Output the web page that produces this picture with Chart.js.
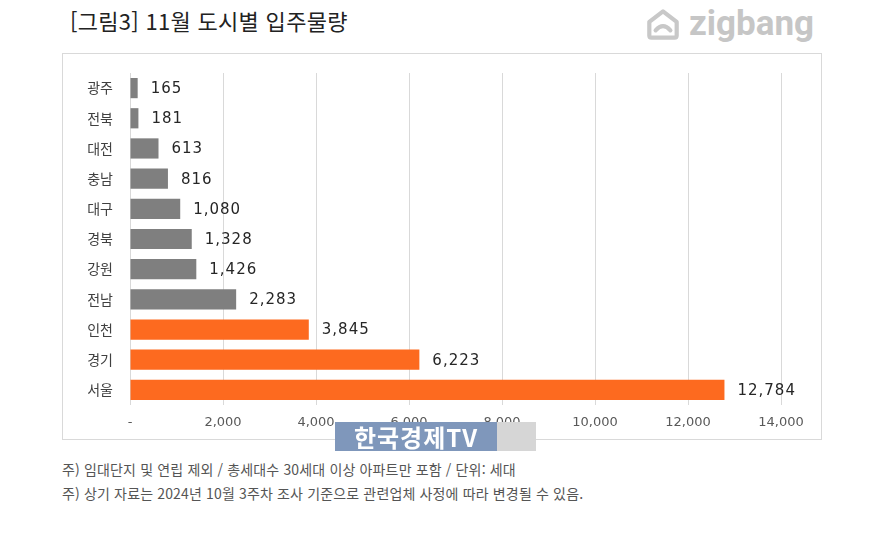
<!DOCTYPE html>
<html lang="ko">
<head>
<meta charset="utf-8">
<title>11월 도시별 입주물량</title>
<script src="https://cdn.jsdelivr.net/npm/chart.js@4"></script>
<style>
  body { margin: 0; width: 872px; height: 552px; background: #fff; position: relative; overflow: hidden;
         font-family: "Noto Sans CJK KR", "Noto Sans", sans-serif; }
  .title { position: absolute; left: 70px; top: 4px; font-size: 22px; color: #222; letter-spacing: 0.3px; }
  .logo { position: absolute; left: 643px; top: 3px; display: flex; align-items: center; gap: 6px; color: #c6c6c6; }
  .logo span { font-family: Roboto, sans-serif; font-weight: 700; font-size: 35px; }
  .box { position: absolute; left: 62px; top: 53px; width: 758px; height: 385px; border: 1px solid #d9d9d9; }
  .box canvas { position: absolute; left: 0; top: 0; }
  .wm { position: absolute; left: 335px; top: 422px; width: 162px; height: 29px; background: #7f97bb; color: #fff;
        font-weight: 700; font-size: 24px; line-height: 29px; text-align: center; letter-spacing: 1px; }
  .wm2 { position: absolute; left: 497px; top: 422px; width: 39px; height: 29px; background: #d6d6d6; }
  .note { position: absolute; left: 62px; font-size: 14px; color: #555; letter-spacing: 0.15px; }
</style>
</head>
<body>
<div class="title">[그림3] 11월 도시별 입주물량</div>
<div class="logo">
  <svg width="40" height="34" viewBox="0 0 38 32">
    <path d="M6 14 L19 4 L32 14 L32 27 Q32 29 30 29 L8 29 Q6 29 6 27 Z" fill="none" stroke="#c8c8c8" stroke-width="4" stroke-linejoin="round"/>
    <path d="M12 22 Q19 14 26 22" fill="none" stroke="#c8c8c8" stroke-width="4" stroke-linecap="round"/>
  </svg>
  <span>zigbang</span>
</div>
<div class="box"><canvas id="chart" width="758" height="385"></canvas></div>
<div class="wm">한국경제TV</div>
<div class="wm2"></div>
<div class="note" style="top:459px">주) 임대단지 및 연립 제외 / 총세대수 30세대 이상 아파트만 포함 / 단위: 세대</div>
<div class="note" style="top:483px">주) 상기 자료는 2024년 10월 3주차 조사 기준으로 관련업체 사정에 따라 변경될 수 있음.</div>

<script>
const cities = ['광주', '전북', '대전', '충남', '대구', '경북', '강원', '전남', '인천', '경기', '서울'];
const units  = [165, 181, 613, 816, 1080, 1328, 1426, 2283, 3845, 6223, 12784];
const highlighted = ['인천', '경기', '서울'];
const xTicks = [0, 2000, 4000, 6000, 8000, 10000, 12000, 14000];

const GRAY = '#7f7f7f';
const ORANGE = '#fd6a1f';

// value labels at the end of each bar
const valueLabels = {
  id: 'valueLabels',
  afterDatasetsDraw(chart) {
    const ctx = chart.ctx;
    const meta = chart.getDatasetMeta(0);
    ctx.save();
    ctx.font = '15px "DejaVu Sans", sans-serif';
    ctx.fillStyle = '#262626';
    ctx.textAlign = 'left';
    ctx.textBaseline = 'middle';
    if ('letterSpacing' in ctx) ctx.letterSpacing = '1px';
    meta.data.forEach((bar, i) => {
      ctx.fillText(units[i].toLocaleString('en-US'), bar.x + 13, bar.y + 1);
    });
    ctx.restore();
  }
};

new Chart(document.getElementById('chart'), {
  type: 'bar',
  data: {
    labels: cities,
    datasets: [{
      data: units,
      backgroundColor: cities.map(c => highlighted.includes(c) ? ORANGE : GRAY),
      barPercentage: 0.67,
      categoryPercentage: 1,
    }],
  },
  options: {
    indexAxis: 'y',
    responsive: false,
    animation: false,
    layout: { padding: { top: 19, right: 40, bottom: 0, left: 0 } },
    plugins: { legend: { display: false }, tooltip: { enabled: false } },
    scales: {
      x: {
        min: 0, max: 14000,
        afterBuildTicks: s => { s.ticks = xTicks.map(v => ({ value: v })); },
        afterFit: s => { s.height = 34; },
        border: { display: false },
        grid: { color: '#d9d9d9', drawTicks: false },
        ticks: {
          padding: 10,
          color: '#595959',
          font: { family: '"DejaVu Sans", sans-serif', size: 13 },
          callback: v => v === 0 ? '-' : v.toLocaleString('en-US'),
        },
      },
      y: {
        afterFit: s => { s.width = 67; },
        border: { display: false },
        grid: { display: false },
        ticks: {
          padding: 9,
          color: '#404040',
          font: { family: '"Noto Sans CJK KR", sans-serif', size: 14 },
        },
      },
    },
  },
  plugins: [valueLabels],
});
</script>
</body>
</html>
